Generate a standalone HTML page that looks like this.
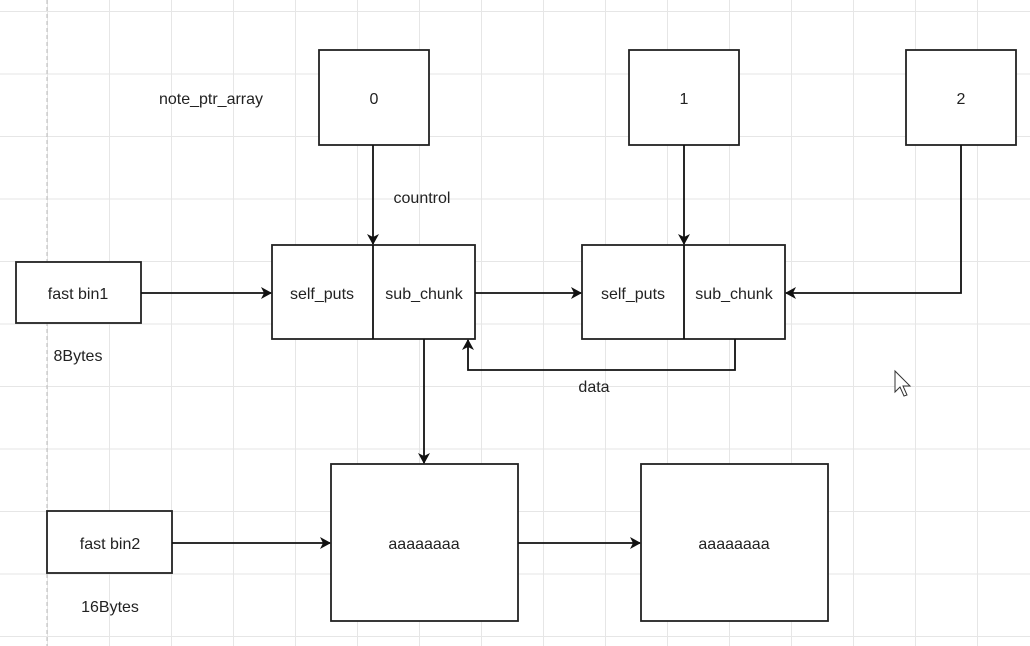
<!DOCTYPE html>
<html><head><style>
body{margin:0;width:1030px;height:646px;overflow:hidden;background:#fff;
background-image:linear-gradient(to right,#e6e6e6 1px,transparent 1px),linear-gradient(to bottom,#e6e6e6 1px,transparent 1px);
background-size:62px 62.5px;background-position:47px 11px;}
svg{position:absolute;left:0;top:0}
text{font-family:"Liberation Sans",Arial,sans-serif;font-size:16px;fill:#222;}
</style></head><body>
<svg width="1030" height="646" viewBox="0 0 1030 646">
<defs><marker id="a" markerWidth="12" markerHeight="12" refX="10" refY="6" orient="auto" markerUnits="userSpaceOnUse">
<path d="M0,0 L11,6 L0,12 L3,6 Z" fill="#111"/></marker></defs>
<line x1="47" y1="0" x2="47" y2="646" stroke="#bbb" stroke-dasharray="4,3"/>
<g fill="#fff" stroke="#222" stroke-width="1.8">
<rect x="319" y="50" width="110" height="95"/>
<rect x="629" y="50" width="110" height="95"/>
<rect x="906" y="50" width="110" height="95"/>
<rect x="272" y="245" width="203" height="94"/>
<rect x="582" y="245" width="203" height="94"/>
<rect x="16" y="262" width="125" height="61"/>
<rect x="47" y="511" width="125" height="62"/>
<rect x="331" y="464" width="187" height="157"/>
<rect x="641" y="464" width="187" height="157"/>
</g>
<g stroke="#111" stroke-width="1.8" fill="none">
<line x1="373" y1="245" x2="373" y2="339"/>
<line x1="684" y1="245" x2="684" y2="339"/>
<line x1="373" y1="145" x2="373" y2="244" marker-end="url(#a)"/>
<line x1="684" y1="145" x2="684" y2="244" marker-end="url(#a)"/>
<polyline points="961,145 961,293 786,293" marker-end="url(#a)"/>
<line x1="141" y1="293" x2="271" y2="293" marker-end="url(#a)"/>
<line x1="475" y1="293" x2="581" y2="293" marker-end="url(#a)"/>
<polyline points="735,339 735,370 468,370 468,340" marker-end="url(#a)"/>
<line x1="424" y1="339" x2="424" y2="463" marker-end="url(#a)"/>
<line x1="172" y1="543" x2="330" y2="543" marker-end="url(#a)"/>
<line x1="518" y1="543" x2="640" y2="543" marker-end="url(#a)"/>
</g>
<path d="M895,371 L895,392 L900,387 L904,396 L907,395 L903,386 L910,386 Z" fill="#fff" stroke="#333" stroke-width="1"/>
<g text-anchor="middle">
<text x="211" y="104">note_ptr_array</text>
<text x="374" y="104">0</text>
<text x="684" y="104">1</text>
<text x="961" y="104">2</text>
<text x="422" y="203">countrol</text>
<text x="322" y="299">self_puts</text>
<text x="424" y="299">sub_chunk</text>
<text x="633" y="299">self_puts</text>
<text x="734" y="299">sub_chunk</text>
<text x="78" y="299">fast bin1</text>
<text x="78" y="361">8Bytes</text>
<text x="594" y="392">data</text>
<text x="110" y="549">fast bin2</text>
<text x="110" y="612">16Bytes</text>
<text x="424" y="549">aaaaaaaa</text>
<text x="734" y="549">aaaaaaaa</text>
</g>
</svg>
</body></html>
